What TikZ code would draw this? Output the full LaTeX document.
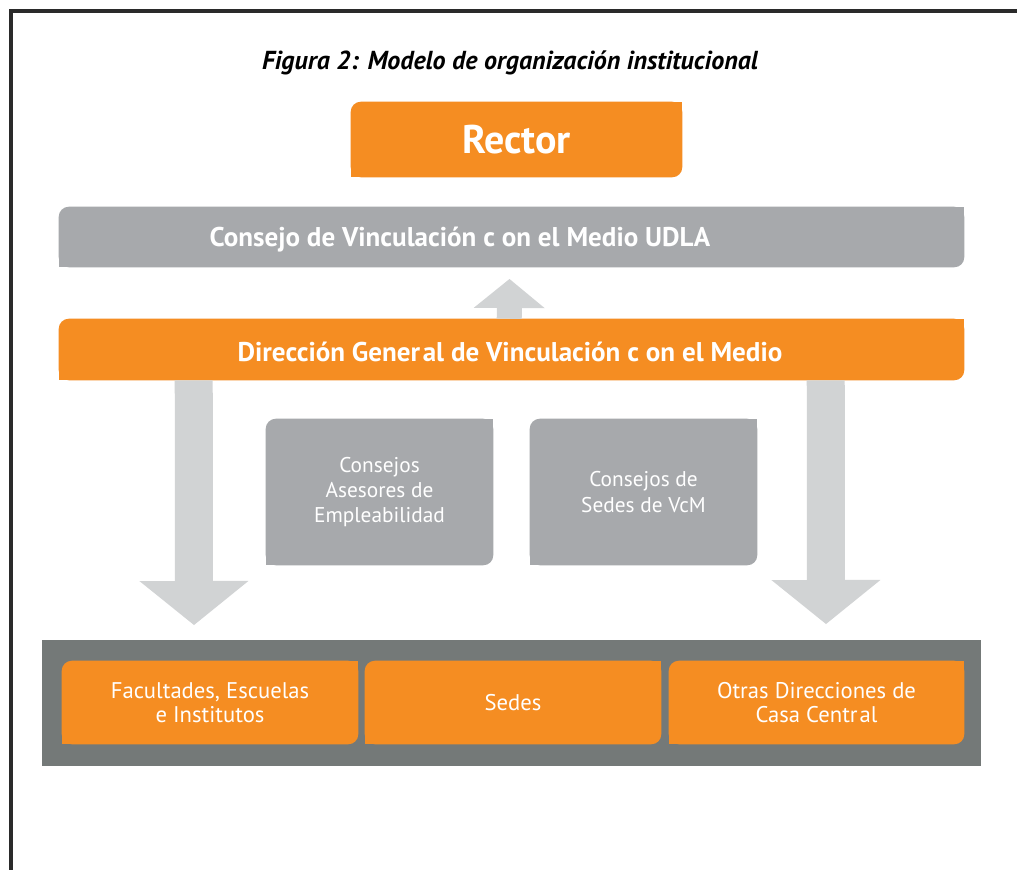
\documentclass[tikz,border=0pt]{standalone}
\usepackage{fontspec}
\setmainfont{PT Sans}
\usetikzlibrary{arrows.meta,calc,backgrounds}
\definecolor{udlaorange}{HTML}{F58D22}
\definecolor{boxgray}{HTML}{A7A9AC}
\definecolor{arrowgray}{HTML}{D1D3D4}
\definecolor{panelgray}{HTML}{747978}
\definecolor{framec}{HTML}{2A2A2A}
\newcommand\cornerbox[3]{%
  \fill[#2,rounded corners=#3] (#1.north west) rectangle (#1.south east);
  \fill[#2] (#1.north east) rectangle ++(-#3,-#3);
  \fill[#2] (#1.south west) rectangle ++(#3,#3);}
\begin{document}
\begin{tikzpicture}[x=0.75pt,y=-0.75pt,
  boxn/.style={inner sep=0pt, text=white, align=center, minimum width=#1},
  bigtxt/.style={font=\bfseries\fontsize{20.3}{24}\selectfont, text=white},
  midtxt/.style={font=\fontsize{16}{19}\selectfont, text=white, align=center},
  smalltxt/.style={font=\fontsize{17}{18}\selectfont, text=white, align=center},
  bigarrow/.style={draw=arrowgray, line width=28.5pt,
     -{Triangle[width=81.75pt, length=33pt, line width=0pt]}},
  uparrow/.style={draw=arrowgray, line width=18.75pt,
     -{Triangle[width=53.25pt, length=21.75pt, line width=0pt]}}]
\useasboundingbox (0,0) rectangle (1017,869);

% title
\node[font=\bfseries\itshape\fontsize{19.5}{22}\selectfont, text=black] (title) at (510,63)
  {Figura 2: Modelo de organización institucional};

% boxes
\node[boxn=331*0.75pt, minimum height=75*0.75pt, font=\bfseries\fontsize{30}{34}\selectfont] (rector) at (516.5,139.5) {Rector};
\node[boxn=905*0.75pt, minimum height=60*0.75pt] (cvm) at (511.5,237) {};
\node[bigtxt] (cvmtxt) at (460,240) {Consejo de Vinculación c on el Medio UDLA};
\node[boxn=905*0.75pt, minimum height=61*0.75pt] (dgv) at (511.5,349.5) {};
\node[bigtxt] (dgvtxt) at (510,352)
  {Dirección Gener\kern2pt al de Vinculación c on el Medio};

\node[boxn=227*0.75pt, minimum height=146*0.75pt, midtxt] (cae) at (379.5,492)
  {Consejos\\Asesores de\\Empleabilidad};
\node[boxn=227*0.75pt, minimum height=146*0.75pt, midtxt] (csv) at (643.5,492)
  {Consejos de\\Sedes de VcM};

\node[boxn=939*0.75pt, minimum height=126*0.75pt] (panel) at (511.5,703) {};
\node[boxn=296*0.75pt, minimum height=83*0.75pt, smalltxt] (fac) at (210,702.5)
  {Facultades, Escuelas\\e Institutos};
\node[boxn=296*0.75pt, minimum height=83*0.75pt, smalltxt] (sedes) at (513,702.5) {Sedes};
\node[boxn=295*0.75pt, minimum height=83*0.75pt, smalltxt] (otras) at (816.5,702.5)
  {Otras Direcciones de\\Casa Centr\kern1.5pt al};

% arrows
\coordinate (upTip) at (509.5,279);
\coordinate (tipL) at (194,625);
\coordinate (tipR) at (826,624);
\draw[uparrow] ($(dgv.north west)+(450.5,0)$) -- (upTip);
\draw[bigarrow] ($(dgv.south west)+(135,0)$) -- (tipL);
\draw[bigarrow] ($(dgv.south west)+(767,0)$) -- (tipR);

% frame
\draw[framec, line width=2.4pt] (1030,11) -- (11,11) -- (11,880);

\begin{scope}[on background layer]
  \fill[white] (0,0) rectangle (1017,869);
  \cornerbox{rector}{udlaorange}{7.5pt}
  \cornerbox{cvm}{boxgray}{7.5pt}
  \cornerbox{dgv}{udlaorange}{7.5pt}
  \cornerbox{cae}{boxgray}{7.5pt}
  \cornerbox{csv}{boxgray}{7.5pt}
  \fill[panelgray] (panel.north west) rectangle (panel.south east);
  \cornerbox{fac}{udlaorange}{7.5pt}
  \cornerbox{sedes}{udlaorange}{7.5pt}
  \cornerbox{otras}{udlaorange}{7.5pt}
\end{scope}
\end{tikzpicture}
\end{document}
